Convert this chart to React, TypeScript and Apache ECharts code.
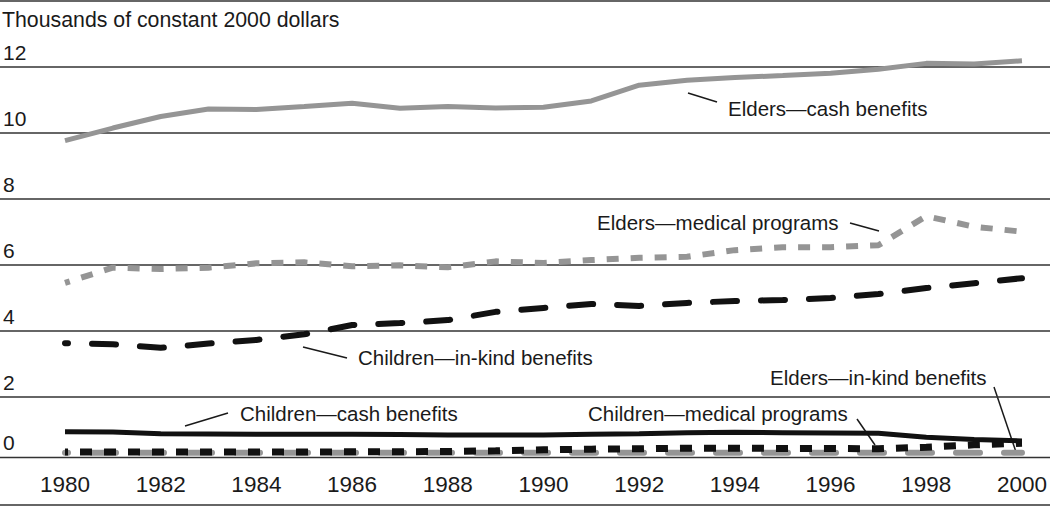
import React, { useEffect, useRef } from "react";
import * as echarts from "echarts";

const years = [1980, 1981, 1982, 1983, 1984, 1985, 1986, 1987, 1988, 1989, 1990, 1991, 1992, 1993, 1994, 1995, 1996, 1997, 1998, 1999, 2000];
const eldersCash = [9.77, 10.15, 10.5, 10.73, 10.71, 10.8, 10.9, 10.75, 10.8, 10.76, 10.78, 10.97, 11.45, 11.6, 11.68, 11.74, 11.81, 11.93, 12.11, 12.09, 12.19];
const eldersMedical = [5.46, 5.92, 5.88, 5.92, 6.05, 6.08, 5.96, 5.99, 5.93, 6.11, 6.06, 6.15, 6.22, 6.25, 6.45, 6.54, 6.54, 6.6, 7.48, 7.16, 7.01];
const childrenInKind = [3.63, 3.6, 3.49, 3.62, 3.73, 3.9, 4.18, 4.24, 4.33, 4.58, 4.7, 4.82, 4.76, 4.85, 4.91, 4.94, 5.0, 5.12, 5.3, 5.45, 5.6];
const childrenCash = [0.95, 0.94, 0.89, 0.88, 0.87, 0.87, 0.87, 0.86, 0.85, 0.85, 0.85, 0.87, 0.89, 0.92, 0.93, 0.92, 0.91, 0.9, 0.78, 0.71, 0.67];
const childrenMedical = [0.33, 0.33, 0.33, 0.33, 0.33, 0.33, 0.34, 0.34, 0.35, 0.37, 0.4, 0.42, 0.43, 0.45, 0.45, 0.44, 0.44, 0.43, 0.48, 0.55, 0.6];
const eldersInKind = [0.31, 0.31, 0.31, 0.31, 0.31, 0.31, 0.31, 0.31, 0.31, 0.31, 0.31, 0.31, 0.31, 0.31, 0.31, 0.31, 0.31, 0.31, 0.31, 0.31, 0.31];

const yTitle = "Thousands of constant 2000 dollars";
const labels = [
  { text: "Elders\u2014cash benefits", x: 728, y: 108, lx1: 688, ly1: 93, lx2: 717, ly2: 102 },
  { text: "Elders\u2014medical programs", x: 597, y: 222, lx1: 850, ly1: 223, lx2: 879, ly2: 231 },
  { text: "Children\u2014in-kind benefits", x: 358, y: 357, lx1: 303, ly1: 347, lx2: 347, ly2: 358 },
  { text: "Children\u2014cash benefits", x: 240, y: 413, lx1: 185, ly1: 426, lx2: 228, ly2: 413 },
  { text: "Children\u2014medical programs", x: 588, y: 413, lx1: 857, ly1: 419, lx2: 875, ly2: 445 },
  { text: "Elders\u2014in-kind benefits", x: 770, y: 377, lx1: 994, ly1: 387, lx2: 1016, ly2: 452 },
];

const FONT = "'Liberation Sans', Arial, sans-serif";
const pairs = (vals: number[]) => years.map((y, i) => [y, vals[i]]);

export default function App() {
  const ref = useRef<HTMLDivElement>(null);
  useEffect(() => {
    if (!ref.current) return;
    const chart = echarts.init(ref.current, null, { renderer: "svg" });
    const gridColors = ["rgba(0,0,0,0)", "#333", "#333", "#333", "#333", "#333", "#333", "#333"];
    const graphics: any[] = [
      {
        type: "text",
        left: 2,
        top: 9,
        style: { text: yTitle, font: `21.3px ${FONT}`, fill: "#1a1a1a" },
      },
      { type: "line", shape: { x1: 0, y1: 457.5, x2: 1050, y2: 457.5 }, style: { stroke: "#333", lineWidth: 1.5 } },
      { type: "line", shape: { x1: 0, y1: 505, x2: 1050, y2: 505 }, style: { stroke: "#333", lineWidth: 1.5 } },
    ];
    labels.forEach((l) => {
      graphics.push({
        type: "text",
        x: l.x,
        y: l.y,
        style: {
          text: l.text,
          font: `20.5px ${FONT}`,
          fill: "#1a1a1a",
          align: "left",
          verticalAlign: "middle",
          textAlign: "left",
          textVerticalAlign: "middle",
        },
      });
      graphics.push({
        type: "line",
        shape: { x1: l.lx1, y1: l.ly1, x2: l.lx2, y2: l.ly2 },
        style: { stroke: "#1a1a1a", lineWidth: 1.5 },
      });
    });

    chart.setOption({
      animation: false,
      grid: [
        { left: 0, right: 0, top: 1, bottom: 48 },
        { left: 65, right: 20, top: 1, bottom: 48 },
      ],
      xAxis: [
        { gridIndex: 0, type: "value", min: 0, max: 1, show: false },
        {
          gridIndex: 1,
          type: "value",
          min: 1980,
          max: 2000,
          interval: 2,
          axisLine: { show: false },
          axisTick: { show: false },
          splitLine: { show: false },
          axisLabel: {
            margin: 10,
            fontSize: 22.5,
            fontFamily: FONT,
            color: "#1a1a1a",
            formatter: (v: number) => String(v),
          },
        },
      ],
      yAxis: [
        {
          gridIndex: 0,
          type: "value",
          min: 0,
          max: 14,
          interval: 2,
          axisLine: { show: false },
          axisTick: { show: false },
          splitLine: { show: true, lineStyle: { color: gridColors, width: 1.5 } },
          axisLabel: {
            inside: true,
            margin: 3,
            fontSize: 21,
            fontFamily: FONT,
            color: "#1a1a1a",
            verticalAlign: "bottom",
            padding: [0, 0, 4, 0],
            showMaxLabel: false,
            formatter: (v: number) => (v === 0 ? "{z|0}" : String(v)),
            rich: { z: { fontSize: 21, fontFamily: FONT, color: "#1a1a1a", padding: [0, 0, 6, 0] } },
          },
        },
        { gridIndex: 1, type: "value", min: 0, max: 14, interval: 2, show: false },
      ],
      series: [
        {
          name: "Elders—cash benefits",
          type: "line",
          xAxisIndex: 1,
          yAxisIndex: 1,
          data: pairs(eldersCash),
          showSymbol: false,
          lineStyle: { color: "#959595", width: 5 },
        },
        {
          name: "Elders—medical programs",
          type: "line",
          xAxisIndex: 1,
          yAxisIndex: 1,
          data: pairs(eldersMedical),
          showSymbol: false,
          lineStyle: { color: "#959595", width: 6, type: [12, 12], cap: "butt", dashOffset: 7 },
        },
        {
          name: "Children—in-kind benefits",
          type: "line",
          xAxisIndex: 1,
          yAxisIndex: 1,
          data: pairs(childrenInKind),
          showSymbol: false,
          lineStyle: { color: "#111", width: 6, type: [24, 24], cap: "round", dashOffset: 21 },
        },
        {
          name: "Elders—in-kind benefits",
          type: "line",
          xAxisIndex: 1,
          yAxisIndex: 1,
          data: pairs(eldersInKind),
          showSymbol: false,
          lineStyle: { color: "#959595", width: 6, type: [24, 24], cap: "round", dashOffset: 21 },
        },
        {
          name: "Children—medical programs",
          type: "line",
          xAxisIndex: 1,
          yAxisIndex: 1,
          data: pairs(childrenMedical),
          showSymbol: false,
          lineStyle: { color: "#111", width: 7, type: [12, 12], cap: "butt", dashOffset: 9 },
        },
        {
          name: "Children—cash benefits",
          type: "line",
          xAxisIndex: 1,
          yAxisIndex: 1,
          data: pairs(childrenCash),
          showSymbol: false,
          lineStyle: { color: "#111", width: 5 },
        },
      ],
      graphic: graphics,
    });
    return () => chart.dispose();
  }, []);
  return (
    <div
      ref={ref}
      style={{ position: "absolute", left: 0, top: 0, width: 1050, height: 511, background: "#fff" }}
    />
  );
}
